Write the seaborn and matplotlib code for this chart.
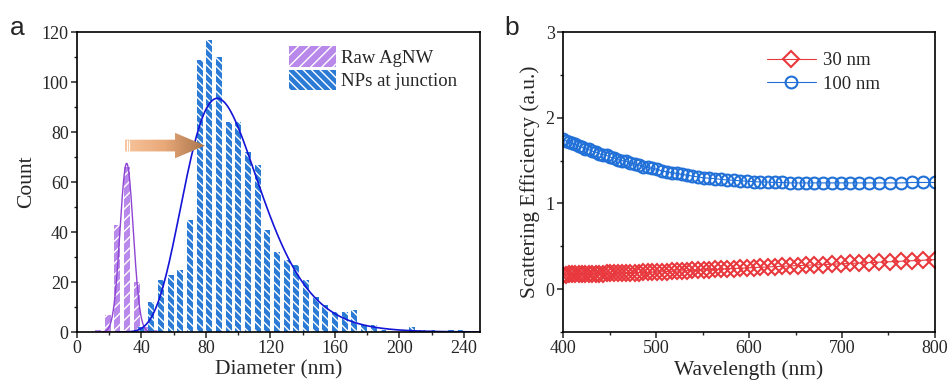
import numpy as np
import matplotlib
matplotlib.use("Agg")
import matplotlib.pyplot as plt
from matplotlib.patches import FancyArrow
from matplotlib.ticker import MultipleLocator
import seaborn as sns

# ---------------------------
# Data (a): size histograms
# ---------------------------
bin_width = 6
raw_centers = [13, 19, 25, 31, 37, 43, 49]
raw_counts = [1, 7, 43, 66, 20, 2, 1]

np_centers = [40, 46, 52, 58, 64, 70, 76, 82, 88, 94, 100, 106, 112, 118, 124, 130,
              136, 142, 148, 154, 160, 166, 172, 178, 184, 190, 196, 202, 208, 214,
              220, 226, 232, 238]
np_counts = [2, 12, 21, 23, 25, 45, 109, 117, 110, 84, 84, 72, 67, 41, 32, 29,
             27, 21, 14, 11, 8, 8, 9, 3, 3, 1, 0, 0, 2, 1, 1, 0, 1, 1]

# fit parameters
raw_fit = dict(center=30.8, sigma=4.1, height=67.5)       # gaussian
np_fit = dict(center=87.0, width=0.27, height=93.5)       # log-normal

# ---------------------------
# Data (b): scattering efficiency
# ---------------------------
wavelength = [400.0, 403.3, 406.6, 409.9, 413.3, 416.8, 420.3, 423.9, 427.6, 431.3,
              435.1, 438.9, 442.9, 446.8, 450.9, 455.0, 459.3, 463.6, 467.9, 472.4,
              476.9, 481.6, 486.3, 491.1, 496.0, 501.0, 506.1, 511.3, 516.7, 522.1,
              527.7, 533.3, 539.1, 545.1, 551.1, 557.3, 563.6, 570.1, 576.7, 583.5,
              590.5, 597.6, 604.9, 612.3, 620.0, 627.8, 635.9, 644.2, 652.6, 661.3,
              670.3, 679.5, 688.9, 698.6, 708.6, 718.8, 729.4, 740.3, 751.5, 763.1,
              775.0, 787.3, 800.0]
eff_30nm = [0.170, 0.171, 0.172, 0.173, 0.174, 0.175, 0.176, 0.177, 0.178, 0.179,
            0.180, 0.181, 0.182, 0.183, 0.184, 0.185, 0.187, 0.188, 0.189, 0.191,
            0.192, 0.194, 0.196, 0.197, 0.199, 0.201, 0.203, 0.206, 0.208, 0.211,
            0.213, 0.216, 0.219, 0.222, 0.225, 0.228, 0.231, 0.235, 0.238, 0.241,
            0.245, 0.248, 0.252, 0.256, 0.259, 0.263, 0.267, 0.271, 0.275, 0.279,
            0.283, 0.287, 0.291, 0.296, 0.300, 0.305, 0.310, 0.315, 0.320, 0.326,
            0.332, 0.338, 0.345]
eff_100nm = [1.75, 1.73, 1.72, 1.70, 1.69, 1.67, 1.66, 1.64, 1.63, 1.61,
             1.60, 1.58, 1.57, 1.56, 1.54, 1.53, 1.51, 1.50, 1.49, 1.47,
             1.46, 1.45, 1.43, 1.42, 1.41, 1.40, 1.38, 1.37, 1.36, 1.35,
             1.34, 1.33, 1.32, 1.31, 1.30, 1.295, 1.29, 1.28, 1.275, 1.27,
             1.265, 1.26, 1.255, 1.25, 1.25, 1.245, 1.245, 1.24, 1.24, 1.24,
             1.24, 1.24, 1.24, 1.24, 1.24, 1.24, 1.24, 1.24, 1.24, 1.24,
             1.245, 1.245, 1.245]

purple = "#b888ea"
blue = "#2b7bd6"
red = "#e8383d"
blue2 = "#2070d8"

sns.set_style("ticks")
plt.rcParams["font.family"] = ["Liberation Serif", "DejaVu Serif"]
plt.rcParams["hatch.linewidth"] = 1.0
plt.rcParams["axes.linewidth"] = 1.2

fig = plt.figure(figsize=(9.53, 3.89), dpi=100)
ax1 = fig.add_axes([0.0808, 0.1465, 0.4229, 0.771])
ax2 = fig.add_axes([0.5908, 0.1465, 0.3903, 0.771])

# ---------------------------
# Panel a
# ---------------------------
raw_range = (raw_centers[0] - bin_width / 2, raw_centers[-1] + bin_width / 2)
np_range = (np_centers[0] - bin_width / 2, np_centers[-1] + bin_width / 2)

sns.histplot(x=raw_centers, weights=raw_counts, binwidth=bin_width, binrange=raw_range,
             shrink=0.62, color=purple, alpha=1, edgecolor="white", linewidth=0,
             hatch="///", label="Raw AgNW", ax=ax1)
sns.histplot(x=np_centers, weights=np_counts, binwidth=bin_width, binrange=np_range,
             shrink=0.62, color=blue, alpha=1, edgecolor="white", linewidth=0,
             hatch="\\\\\\\\", label="NPs at junction", ax=ax1)

xr = np.linspace(14, 50, 200)
yr = raw_fit["height"] * np.exp(-(xr - raw_fit["center"]) ** 2 / (2 * raw_fit["sigma"] ** 2))
sns.lineplot(x=xr, y=yr, color="#8e44d4", lw=1.0, ax=ax1)
xn = np.linspace(25, 250, 400)
yn = np_fit["height"] * np.exp(-np.log(xn / np_fit["center"]) ** 2 / (2 * np_fit["width"] ** 2))
sns.lineplot(x=xn, y=yn, color="#1414d8", lw=1.2, ax=ax1)

# gradient arrow
arrow = FancyArrow(29.8, 74.6, 49.6, 0, width=4.7, head_width=10.2, head_length=18.6,
                   length_includes_head=True, facecolor="none", edgecolor="none")
ax1.add_patch(arrow)
grad = np.linspace(0, 1, 256).reshape(1, -1)
cmap = matplotlib.colors.LinearSegmentedColormap.from_list("arr", ["#f8c49c", "#e8a878", "#a8744c"])
im = ax1.imshow(grad, extent=[29.8, 79.4, 69.4, 79.8], aspect="auto", cmap=cmap, zorder=3)
im.set_clip_path(arrow)
ax1.vlines([31.0, 32.3], 72.3, 76.9, colors="white", lw=0.8, zorder=4)

ax1.set_xlim(0, 250)
ax1.set_ylim(0, 120)
ax1.xaxis.set_major_locator(MultipleLocator(40))
ax1.xaxis.set_minor_locator(MultipleLocator(20))
ax1.yaxis.set_major_locator(MultipleLocator(20))
ax1.yaxis.set_minor_locator(MultipleLocator(10))
ax1.set_xlabel("Diameter (nm)", fontsize=15.5, labelpad=2)
ax1.set_ylabel("Count", fontsize=15.5, labelpad=4)
ax1.legend(loc="upper right", frameon=False, fontsize=13.5, handlelength=2.5,
           handleheight=1.3, handletextpad=0.3, labelspacing=0.15,
           borderaxespad=0.2, bbox_to_anchor=(0.972, 0.99))

# ---------------------------
# Panel b
# ---------------------------
sns.lineplot(x=wavelength, y=eff_30nm, color=red, lw=0.8, marker="D", markersize=8.5,
             markerfacecolor="none", markeredgecolor=red, markeredgewidth=1.5,
             label="30 nm", ax=ax2)
sns.lineplot(x=wavelength, y=eff_100nm, color=blue2, lw=0.8, marker="o", markersize=8.5,
             markerfacecolor="none", markeredgecolor=blue2, markeredgewidth=1.5,
             label="100 nm", ax=ax2)

ax2.set_xlim(400, 800)
ax2.set_ylim(-0.5, 3)
ax2.xaxis.set_major_locator(MultipleLocator(100))
ax2.xaxis.set_minor_locator(MultipleLocator(50))
ax2.yaxis.set_major_locator(MultipleLocator(1))
ax2.yaxis.set_minor_locator(MultipleLocator(0.5))
ax2.set_xlabel("Wavelength (nm)", fontsize=15.5, labelpad=2)
ax2.set_ylabel("Scattering Efficiency (a.u.)", fontsize=15.5, labelpad=4)
leg = ax2.legend(loc="upper right", frameon=False, fontsize=13.5, handlelength=2.6,
                 handletextpad=0.4, labelspacing=0.35, bbox_to_anchor=(0.898, 0.99))
for h in leg.legend_handles:
    h.set_linewidth(0.8)
    h.set_alpha(1)

for ax in (ax1, ax2):
    ax.tick_params(which="major", direction="out", length=4, width=1.1, labelsize=13, pad=2)
    ax.tick_params(which="minor", direction="out", length=2.5, width=1.0)
    ax.tick_params(top=False, right=False, which="both")
    for s in ax.spines.values():
        s.set_visible(True)
        s.set_linewidth(1.2)
        s.set_color("black")
    ax.grid(False)

fig.text(0.010, 0.91, "a", fontsize=19, family="Liberation Sans")
fig.text(0.529, 0.91, "b", fontsize=19, family="Liberation Sans")

fig.savefig("out.png", dpi=100)
